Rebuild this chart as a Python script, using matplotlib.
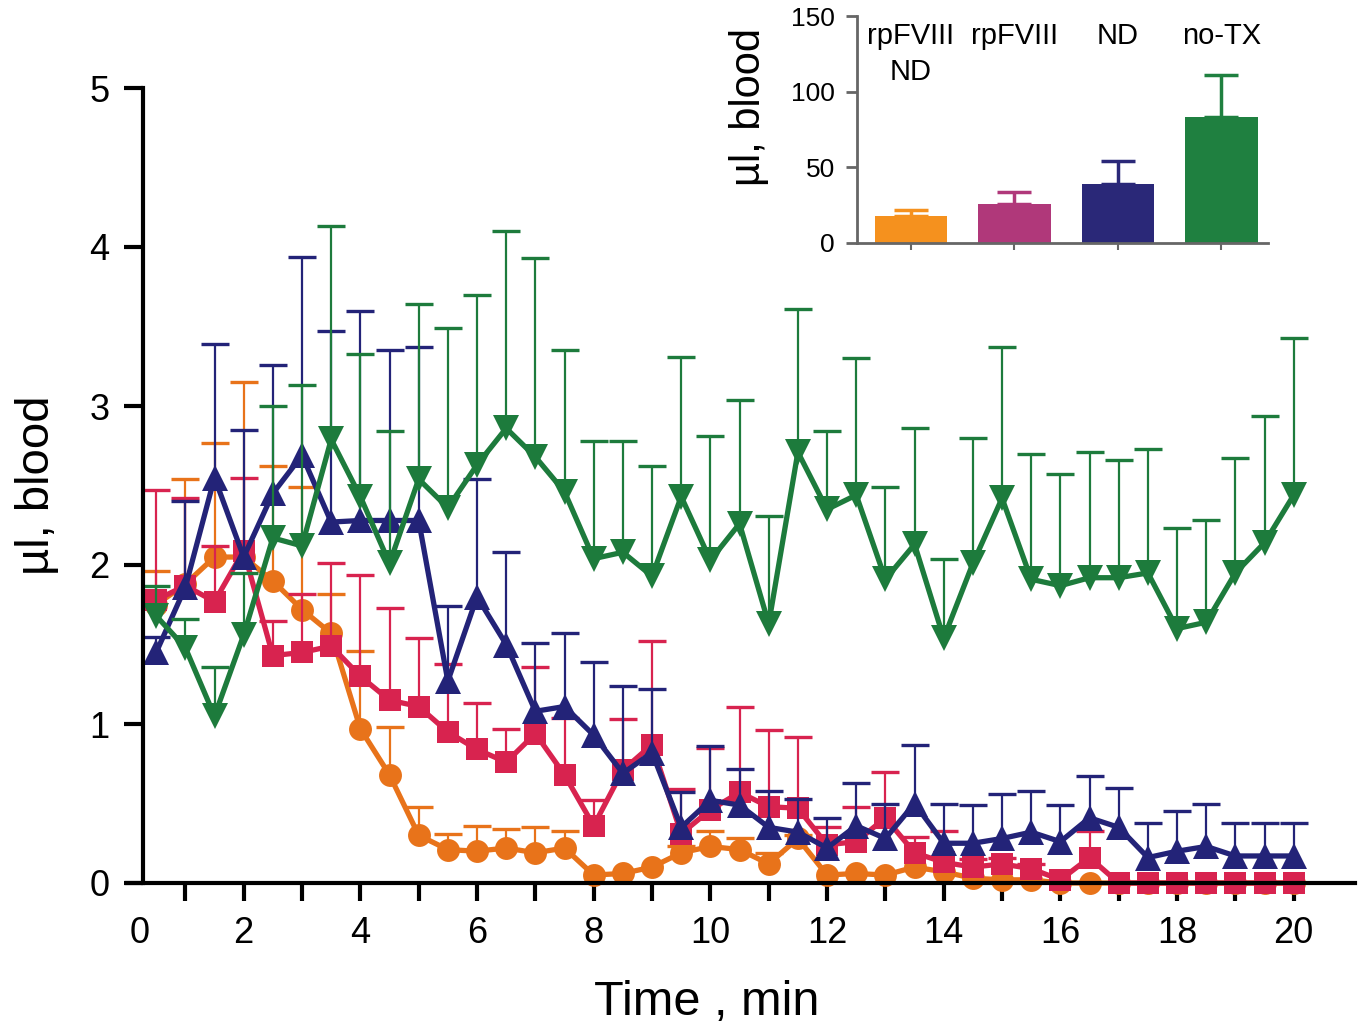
import numpy as np
import matplotlib
matplotlib.use("Agg")
import matplotlib.pyplot as plt

plt.rcParams["font.family"] = ["Liberation Sans", "DejaVu Sans"]

# Time points (min) and bleeding per interval (mean, upper SEM)
time_min = np.arange(1, 41) * 0.5

notx_mean = [1.68, 1.48, 1.05, 1.56, 2.17, 2.12, 2.79, 2.43, 2.01, 2.54,
             2.36, 2.63, 2.86, 2.68, 2.46, 2.04, 2.08, 1.93, 2.43, 2.03,
             2.26, 1.63, 2.71, 2.35, 2.44, 1.91, 2.13, 1.54, 2.01, 2.42,
             1.91, 1.87, 1.92, 1.92, 1.95, 1.60, 1.64, 1.95, 2.14, 2.44]
notx_err = [0.19, 0.18, 0.31, 0.39, 0.83, 1.01, 1.34, 0.90, 0.83, 1.10,
            1.13, 1.07, 1.24, 1.25, 0.89, 0.74, 0.70, 0.69, 0.88, 0.78,
            0.78, 0.68, 0.90, 0.49, 0.86, 0.58, 0.73, 0.50, 0.79, 0.95,
            0.79, 0.70, 0.79, 0.74, 0.78, 0.63, 0.64, 0.72, 0.80, 0.99]

nd_mean = [1.45, 1.86, 2.55, 2.05, 2.45, 2.69, 2.27, 2.28, 2.28, 2.28,
           1.27, 1.80, 1.50, 1.08, 1.11, 0.93, 0.69, 0.82, 0.35, 0.52,
           0.49, 0.35, 0.32, 0.22, 0.36, 0.28, 0.50, 0.25, 0.25, 0.28,
           0.32, 0.26, 0.41, 0.35, 0.16, 0.20, 0.23, 0.17, 0.17, 0.17]
nd_err = [0.10, 0.54, 0.84, 0.80, 0.81, 1.25, 1.20, 1.32, 1.07, 1.09,
          0.47, 0.74, 0.58, 0.43, 0.46, 0.46, 0.55, 0.40, 0.22, 0.34,
          0.23, 0.23, 0.21, 0.19, 0.27, 0.22, 0.37, 0.25, 0.24, 0.28,
          0.26, 0.23, 0.26, 0.25, 0.22, 0.25, 0.27, 0.21, 0.21, 0.21]

rp_mean = [1.78, 1.87, 1.77, 2.09, 1.43, 1.45, 1.49, 1.30, 1.15, 1.11,
           0.95, 0.84, 0.76, 0.94, 0.68, 0.36, 0.71, 0.87, 0.31, 0.46,
           0.57, 0.48, 0.47, 0.24, 0.26, 0.41, 0.19, 0.13, 0.10, 0.12,
           0.09, 0.02, 0.16, 0.0, 0.0, 0.0, 0.0, 0.0, 0.0, 0.0]
rp_err = [0.69, 0.55, 0.35, 0.46, 0.22, 0.37, 0.52, 0.64, 0.58, 0.43,
          0.43, 0.29, 0.21, 0.42, 0.36, 0.16, 0.32, 0.65, 0.28, 0.39,
          0.54, 0.48, 0.45, 0.11, 0.22, 0.29, 0.10, 0.20, 0.05, 0.04,
          0.03, 0.0, 0.17, 0.0, 0.0, 0.0, 0.0, 0.0, 0.0, 0.0]

rpnd_mean = [1.75, 1.88, 2.05, 2.05, 1.90, 1.72, 1.57, 0.97, 0.68, 0.30,
             0.21, 0.20, 0.22, 0.19, 0.22, 0.05, 0.06, 0.10, 0.19, 0.23,
             0.21, 0.12, 0.28, 0.05, 0.06, 0.05, 0.10, 0.07, 0.03, 0.02,
             0.02, 0.0, 0.0, 0.0, 0.0, 0.0, 0.0, 0.0, 0.0, 0.0]
rpnd_err = [0.21, 0.66, 0.72, 1.10, 0.72, 0.77, 0.25, 0.49, 0.30, 0.18,
            0.10, 0.16, 0.12, 0.16, 0.11, 0.0, 0.0, 0.0, 0.04, 0.10,
            0.07, 0.07, 0.02, 0.0, 0.0, 0.0, 0.0, 0.0, 0.0, 0.0,
            0.0, 0.0, 0.0, 0.0, 0.0, 0.0, 0.0, 0.0, 0.0, 0.0]

# Inset: total blood loss
groups = ["rpFVIII\nND", "rpFVIII", "ND", "no-TX"]
total_mean = [17.8, 25.6, 39.0, 83.5]
total_err = [4.0, 8.0, 15.5, 27.5]
inset_colors = ["#F5911E", "#B0387A", "#2A2878", "#1F8040"]


def draw_series(ax, x, y, err, color, marker, ms, z):
    y = np.asarray(y)
    err = np.asarray(err)
    ax.errorbar(x, y, yerr=[np.zeros_like(err), err], fmt="none",
                ecolor=color, elinewidth=1.6, capsize=0, zorder=z)
    has_err = err > 0
    ax.plot(x[has_err], (y + err)[has_err], ls="none", marker="_", ms=20,
            mew=2.4, color=color, zorder=z)
    ax.plot(x, y, color=color, lw=3.8, marker=marker, ms=ms,
            markeredgewidth=0, clip_on=False, zorder=z + 0.5)


fig = plt.figure(figsize=(13.6, 10.3), dpi=100)
ax = fig.add_axes([127 / 1360, 1 - 883 / 1030, 1228 / 1360, 795 / 1030])

draw_series(ax, time_min, rpnd_mean, rpnd_err, "#E8731A", "o", 16.5, 3)
draw_series(ax, time_min, rp_mean, rp_err, "#D8234F", "s", 15.5, 4)
draw_series(ax, time_min, nd_mean, nd_err, "#232378", "^", 19, 5)
draw_series(ax, time_min, notx_mean, notx_err, "#1D7B3C", "v", 19, 6)

ax.set_xlim(0, 21.05)
ax.set_ylim(0, 5)
ax.spines["top"].set_visible(False)
ax.spines["right"].set_visible(False)
ax.spines["left"].set_position(("data", 0.27))
for side in ["left", "bottom"]:
    ax.spines[side].set_linewidth(3)
    ax.spines[side].set_zorder(10)

ax.set_yticks(range(0, 6))
ax.set_xticks(range(2, 21, 2))
ax.set_xticks(range(1, 21, 2), minor=True)
ax.tick_params(axis="both", which="both", direction="out", width=3,
               length=13, labelsize=26, pad=11)
ax.tick_params(axis="y", length=14, pad=10)
ax.annotate("0", xy=(0.22, 0), xycoords=("data", "axes fraction"),
            xytext=(0, -24), textcoords="offset points", ha="center",
            va="top", fontsize=26)

ax.set_xlabel("Time , min", fontsize=35)
ax.xaxis.set_label_coords(0.472, -0.122)
ax.set_ylabel("µl, blood", fontsize=34)
ax.yaxis.set_label_coords(-0.055, 0.5)

# Inset bar chart
ins = fig.add_axes([857 / 1360, 1 - 243 / 1030, 411 / 1360, 227 / 1030])
pos = np.arange(len(groups))
ins.bar(pos, total_mean, width=0.7, color=inset_colors, zorder=2)
for i in range(len(groups)):
    ins.errorbar(pos[i], total_mean[i], yerr=[[0], [total_err[i]]],
                 fmt="none", ecolor=inset_colors[i], elinewidth=2.5,
                 capsize=12, capthick=2.5, zorder=1)
    ins.text(pos[i], 146, groups[i], ha="center", va="top", fontsize=21,
             linespacing=1.35)

ins.set_xlim(-0.52, 3.45)
ins.set_ylim(0, 150)
ins.set_yticks([0, 50, 100, 150])
ins.set_xticks(pos)
ins.set_xticklabels([])
ins.spines["top"].set_visible(False)
ins.spines["right"].set_visible(False)
for side in ["left", "bottom"]:
    ins.spines[side].set_linewidth(2)
    ins.spines[side].set_color("#666666")
ins.tick_params(axis="y", colors="#666666", labelcolor="black", width=2,
                length=8, labelsize=19, pad=8)
ins.tick_params(axis="x", colors="#666666", width=1.5, length=5)
ins.set_ylabel("µl, blood", fontsize=30)
ins.yaxis.set_label_coords(-0.215, 0.6)
ins.patch.set_alpha(0)

fig.savefig("out.png", dpi=100)
